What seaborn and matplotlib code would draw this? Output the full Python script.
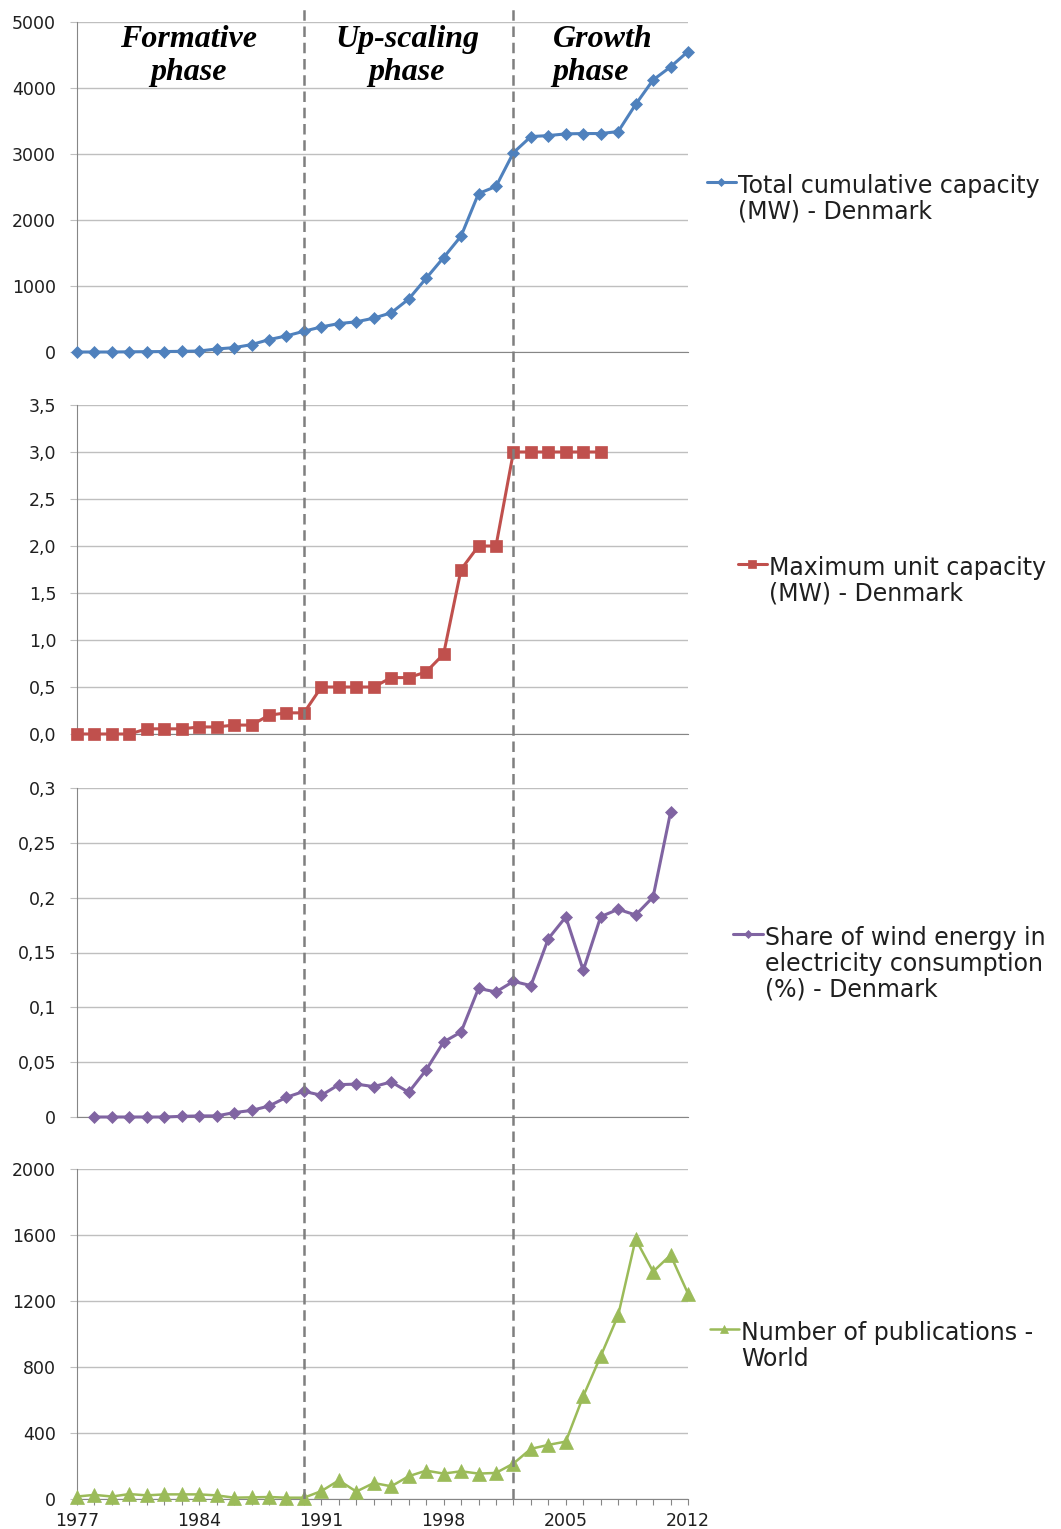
import numpy as np
import pandas as pd
import matplotlib
matplotlib.use("Agg")
import matplotlib.pyplot as plt
import seaborn as sns
from matplotlib.ticker import FuncFormatter, MultipleLocator

nan = np.nan
years = list(range(1977, 2013))

total_capacity = [0, 0, 0, 3, 5, 7, 10, 15, 46, 66, 112, 188, 244, 315, 380, 431,
                  457, 513, 594, 802, 1117, 1431, 1756, 2401, 2508, 3020, 3264,
                  3279, 3305, 3310, 3310, 3340, 3751, 4122, 4320, 4553]
max_unit = [0, 0, 0, 0, 0.055, 0.055, 0.055, 0.075, 0.075, 0.095, 0.095, 0.2,
            0.225, 0.225, 0.5, 0.5, 0.5, 0.5, 0.6, 0.6, 0.66, 0.85, 1.75, 2.0,
            2.0, 3.0, 3.0, 3.0, 3.0, 3.0, 3.0, nan, nan, nan, nan, nan]
wind_share = [nan, 0, 0, 0, 0, 0, 0.0006, 0.001, 0.001, 0.004, 0.006, 0.01,
              0.018, 0.0234, 0.0198, 0.0295, 0.030, 0.0277, 0.032, 0.0225,
              0.0429, 0.0684, 0.0775, 0.1173, 0.114, 0.1237, 0.1198, 0.1626,
              0.1824, 0.1337, 0.1827, 0.1894, 0.1842, 0.2006, 0.2778, nan]
publications = [15, 25, 15, 30, 22, 28, 28, 28, 22, 8, 10, 12, 8, 8, 48, 113,
                45, 97, 77, 138, 172, 154, 168, 154, 158, 215, 304, 328, 348,
                623, 866, 1113, 1575, 1378, 1478, 1245]

series_labels = ["Total cumulative capacity\n(MW) - Denmark",
                 "Maximum unit capacity\n(MW) - Denmark",
                 "Share of wind energy in\nelectricity consumption\n(%) - Denmark",
                 "Number of publications -\nWorld"]
phase_labels = ["Formative\nphase", "Up-scaling\nphase", "Growth\nphase"]
phase_breaks = [1990, 2002]
xtick_years = [1977, 1984, 1991, 1998, 2005, 2012]

df = pd.DataFrame({"year": years, "total": total_capacity, "unit": max_unit,
                   "share": wind_share, "pubs": publications})

sns.set_style("white")
plt.rcParams["font.family"] = ["DejaVu Sans"]

W, H = 1061, 1529
fig = plt.figure(figsize=(W / 100, H / 100), dpi=100)


def px_axes(top, bottom, left=77, right=688):
    return fig.add_axes([left / W, 1 - bottom / H, (right - left) / W, (bottom - top) / H])


GRID = "#BFBFBF"
SPINE = "#868686"
TXT = "#1F1F1F"

panels = [
    dict(col="total", top=22, bottom=352, ylim=(0, 5000), step=1000,
         color="#4F81BD", marker="D", ms=6.5, lw=2.2,
         fmt=lambda v, p: f"{int(v)}", leg=(706.5, 174)),
    dict(col="unit", top=405, bottom=734, ylim=(0, 3.5), step=0.5,
         color="#C0504D", marker="s", ms=8.5, lw=2.2,
         fmt=lambda v, p: f"{v:.1f}".replace(".", ","), leg=(737.5, 556)),
    dict(col="share", top=788, bottom=1117, ylim=(0, 0.3), step=0.05,
         color="#8064A2", marker="D", ms=6.5, lw=2.2,
         fmt=lambda v, p: ("0" if abs(v) < 1e-9 else f"{v:.2f}".rstrip("0").replace(".", ",")),
         leg=(733.5, 926)),
    dict(col="pubs", top=1169, bottom=1499, ylim=(0, 2000), step=400,
         color="#9BBB59", marker="^", ms=10, lw=1.8,
         fmt=lambda v, p: f"{int(v)}", leg=(709.5, 1321)),
]

axes = []
for i, pnl in enumerate(panels):
    ax = px_axes(pnl["top"], pnl["bottom"])
    ax.patch.set_alpha(0)
    sub = df[["year", pnl["col"]]].dropna()
    sns.lineplot(data=sub, x="year", y=pnl["col"], ax=ax, color=pnl["color"],
                 marker=pnl["marker"], markersize=pnl["ms"], linewidth=pnl["lw"],
                 markeredgecolor=pnl["color"], markeredgewidth=0.5,
                 label=series_labels[i], clip_on=False, zorder=5)
    ax.set_xlim(1977, 2012)
    ax.set_ylim(*pnl["ylim"])
    ax.set_xlabel("")
    ax.set_ylabel("")
    ax.yaxis.set_major_locator(MultipleLocator(pnl["step"]))
    ax.yaxis.set_major_formatter(FuncFormatter(pnl["fmt"]))
    ax.grid(axis="y", color=GRID, linewidth=1.0)
    ax.grid(axis="x", visible=False)
    for s in ["top", "right"]:
        ax.spines[s].set_visible(False)
    ax.spines["left"].set_color(SPINE)
    ax.spines["left"].set_linewidth(0.8)
    ax.spines["bottom"].set_color(SPINE)
    ax.spines["bottom"].set_linewidth(0.8)
    ax.tick_params(axis="y", length=5, width=0.8, color=GRID, pad=10,
                   labelsize=12.5, labelcolor=TXT, left=True)
    if i < 3:
        ax.tick_params(axis="x", bottom=False, labelbottom=False)
    else:
        ax.xaxis.set_major_locator(matplotlib.ticker.FixedLocator(xtick_years))
        ax.xaxis.set_minor_locator(MultipleLocator(1))
        ax.xaxis.set_major_formatter(FuncFormatter(lambda v, p: f"{int(v)}"))
        ax.tick_params(axis="x", which="both", bottom=True, length=4, width=0.8,
                       color=SPINE, direction="out", labelsize=12.5,
                       labelcolor=TXT, pad=5)
    lx, ly = pnl["leg"]
    leg = ax.legend(loc="upper left", bbox_to_anchor=(lx / W, 1 - ly / H),
                    bbox_transform=fig.transFigure, frameon=False, borderpad=0,
                    borderaxespad=0, handlelength=1.25, handletextpad=0.1,
                    fontsize=17, markerscale=0.6)
    for t in leg.get_texts():
        t.set_color(TXT)
        t.set_linespacing(1.1)
    try:
        for colbox in leg._legend_handle_box.get_children():
            for item in colbox.get_children():
                item.align = "top"
    except Exception:
        pass
    axes.append(ax)

# phase labels on top panel
ax1 = axes[0]
phase_font = dict(family=["Liberation Serif", "DejaVu Serif"], weight="bold",
                  style="italic", fontsize=23, color="black")
ax1.text(1983.4, 4960, phase_labels[0], ha="center", va="top",
         linespacing=1.22, **phase_font)
ax1.text(1995.9, 4960, phase_labels[1], ha="center", va="top",
         linespacing=1.22, **phase_font)
ax1.text(2004.25, 4960, phase_labels[2], ha="left", va="top",
         linespacing=1.22, **phase_font)

# dashed phase separators spanning all panels
ov = px_axes(5, 1499)
ov.set_xlim(1977, 2012)
ov.set_ylim(0, 1)
ov.axis("off")
for x in phase_breaks:
    ov.axvline(x, color="#7F7F7F", linewidth=1.8, linestyle=(0, (4.2, 2.3)))

fig.savefig("out.png", dpi=100)
